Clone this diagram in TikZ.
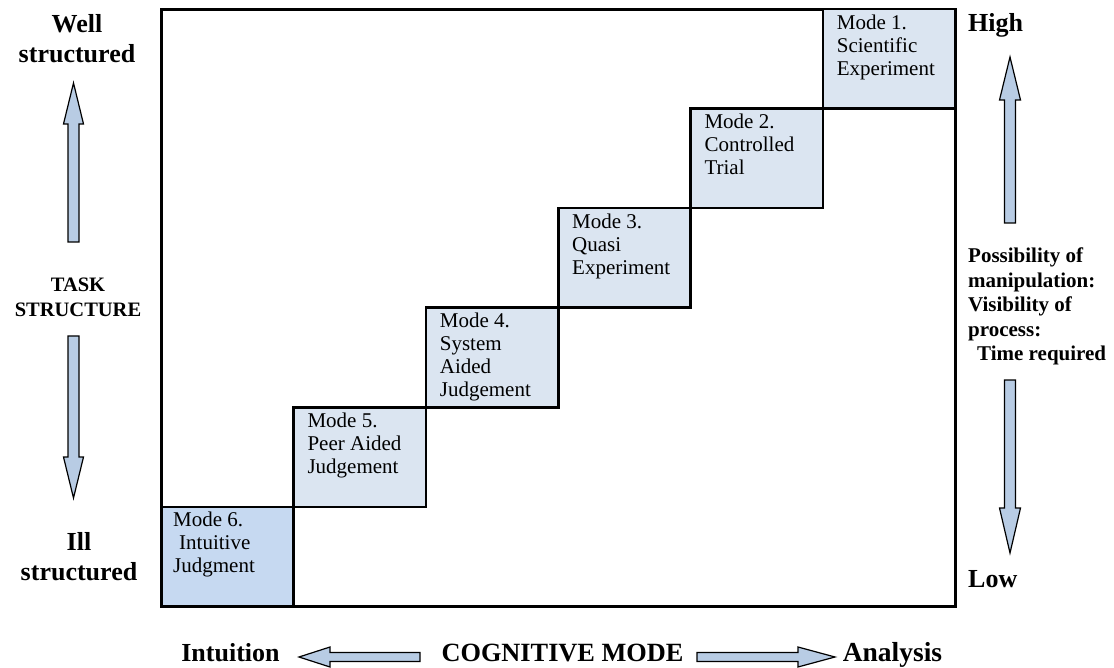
\documentclass[tikz,border=0pt]{standalone}
\usepackage{fontspec}
\setmainfont{Liberation Serif}
\definecolor{modefill}{HTML}{DBE5F1}
\definecolor{intuitfill}{HTML}{C6D9F1}
\definecolor{arrowfill}{HTML}{B8CCE4}
\begin{document}
\begin{tikzpicture}[x=1pt,y=-1pt,
  frame/.style={draw, line width=2.7pt, rectangle, inner sep=0pt, anchor=north west,
    minimum width=794pt, minimum height=597pt},
  modebox/.style={draw, line width=2.5pt, fill=modefill, rectangle, inner sep=0pt,
    anchor=north west, minimum width=132.33pt, minimum height=99.5pt},
  modetext/.style={anchor=north west, inner sep=0pt, align=left,
    font=\fontsize{21}{23}\selectfont, xshift=15pt, yshift=-6.7pt},
  blockarrow/.style={draw, line width=1.2pt, fill=arrowfill, line join=miter},
  biglabel/.style={inner sep=0pt, align=center, font=\fontsize{26}{30}\bfseries\selectfont},
  midlabel/.style={inner sep=0pt, font=\fontsize{21}{24.5}\bfseries\selectfont},
]
\useasboundingbox (0,0) rectangle (1114,668);

% outer frame
\node[frame] (frame) at (160,8) {};

% staircase of cognitive modes
\node[modebox] (m1) at (821.67,8) {};
\node[modebox] (m2) at (689.33,107.5) {};
\node[modebox] (m3) at (557,207) {};
\node[modebox] (m4) at (424.67,306.5) {};
\node[modebox] (m5) at (292.33,406) {};
\node[modebox, fill=intuitfill] (m6) at (160,505.5) {};

\node[modetext] (t1) at (m1.north west) {Mode 1.\\Scientific\\Experiment};
\node[modetext] (t2) at (m2.north west) {Mode 2.\\Controlled\\Trial};
\node[modetext] (t3) at (m3.north west) {Mode 3.\\Quasi\\Experiment};
\node[modetext] (t4) at (m4.north west) {Mode 4.\\System\\Aided\\Judgement};
\node[modetext] (t5) at (m5.north west) {Mode 5.\\Peer Aided\\Judgement};
\node[modetext, xshift=-2pt] (t6) at (m6.north west) {Mode 6.\\\hspace*{6pt}Intuitive\\Judgment};

% left axis: task structure
\node[biglabel, anchor=north] (well) at (77,14.4) {Well\\structured};
\node[midlabel, anchor=north, align=center, font=\fontsize{20.5}{25}\bfseries\selectfont] (task) at (78,277.8) {TASK\\STRUCTURE};
\node[biglabel, anchor=north] (ill) at (79,532.4) {Ill\\structured};

\draw[blockarrow] (73.5,83) -- (83.5,124) -- (79,124) -- (79,242) -- (68,242)
  -- (68,124) -- (63.5,124) -- cycle;
\draw[blockarrow] (68,336) -- (79,336) -- (79,457) -- (83.5,457) -- (73.5,498)
  -- (63.5,457) -- (68,457) -- cycle;

% right axis
\node[biglabel, anchor=base west] (high) at (968,32) {High};
\node[midlabel, anchor=north west, align=left] (props) at (968,247.7)
  {Possibility of\\manipulation:\\Visibility of\\process:\\\hspace*{9pt}Time required};
\node[biglabel, anchor=base west] (low) at (968,587) {Low};

\draw[blockarrow] (1010,57) -- (1020.5,100) -- (1015.5,100) -- (1015.5,223) -- (1004.5,223)
  -- (1004.5,100) -- (999.5,100) -- cycle;
\draw[blockarrow] (1004.5,380) -- (1015.5,380) -- (1015.5,508) -- (1020.5,508) -- (1010,553)
  -- (999.5,508) -- (1004.5,508) -- cycle;

% bottom axis: cognitive mode
\node[biglabel, anchor=base] (intu) at (230.5,661) {Intuition};
\node[biglabel, anchor=base, font=\fontsize{26.3}{30}\bfseries\selectfont] (cog) at (562.5,661) {COGNITIVE MODE};
\node[biglabel, anchor=base, font=\fontsize{27.5}{30}\bfseries\selectfont] (ana) at (892.5,661) {Analysis};

\draw[blockarrow] (299,657) -- (330,647) -- (330,652.5) -- (420,652.5) -- (420,661.5)
  -- (330,661.5) -- (330,667) -- cycle;
\draw[blockarrow] (835,657) -- (798,647) -- (798,652.5) -- (697,652.5) -- (697,661.5)
  -- (798,661.5) -- (798,667) -- cycle;
\end{tikzpicture}
\end{document}
